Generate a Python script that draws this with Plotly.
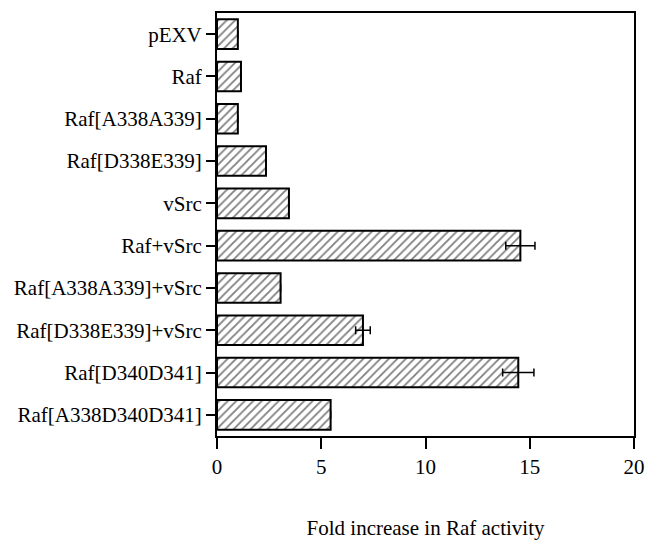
import plotly.graph_objects as go

categories = ["pEXV", "Raf", "Raf[A338A339]", "Raf[D338E339]", "vSrc", "Raf+vSrc",
              "Raf[A338A339]+vSrc", "Raf[D338E339]+vSrc", "Raf[D340D341]", "Raf[A338D340D341]"]
fold_values = [1.0, 1.15, 1.0, 2.35, 3.45, 14.55, 3.05, 7.0, 14.45, 5.45]
fold_errors = [0, 0, 0, 0, 0, 0.7, 0, 0.35, 0.75, 0]
x_ticks = [0, 5, 10, 15, 20]

FONT = "Liberation Serif, Times New Roman, serif"

fig = go.Figure()
fig.add_trace(go.Bar(
    y=categories, x=fold_values, orientation="h",
    marker=dict(color="white", line=dict(color="black", width=2),
                pattern=dict(shape="/", fgcolor="black", bgcolor="white", size=6, solidity=0.3)),
    error_x=dict(type="data", array=fold_errors, visible=True, color="black", thickness=1.5, width=4),
    width=0.7,
    showlegend=False,
))

fig.update_layout(
    width=647, height=542,
    margin=dict(l=217, r=13, t=13, b=106),
    paper_bgcolor="white", plot_bgcolor="white",
    font=dict(family=FONT, size=21, color="black"),
    bargap=0.3,
)
fig.update_xaxes(
    range=[0, 20], tickvals=x_ticks, ticktext=[str(v) for v in x_ticks],
    showline=True, linecolor="black", linewidth=2, mirror=True,
    ticks="outside", ticklen=11, tickwidth=2, tickcolor="black",
    showgrid=False, zeroline=False,
    title=dict(text="Fold increase in Raf activity", standoff=42, font=dict(size=21)),
    automargin=False,
)
fig.update_yaxes(
    autorange="reversed",
    showline=True, linecolor="black", linewidth=2, mirror=True,
    ticks="outside", ticklen=9, tickwidth=2, tickcolor="black",
    showgrid=False, zeroline=False, automargin=False,
)
fig.write_html("out.html", config={"displayModeBar": False},
               post_script="document.body.style.margin='0';document.body.style.padding='0';")
